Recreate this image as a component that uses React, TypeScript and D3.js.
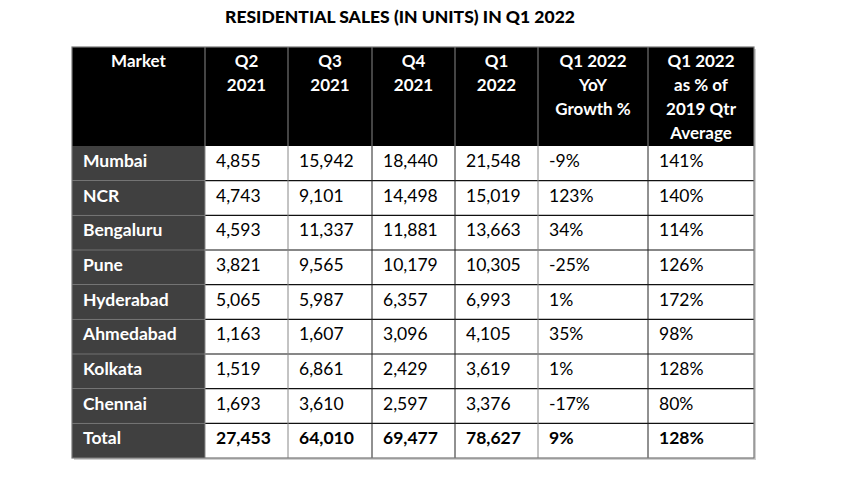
import React from "react";
import * as d3 from "d3";

const title = "RESIDENTIAL SALES (IN UNITS) IN Q1 2022";
const headers: string[][] = [
  ["Market"],
  ["Q2", "2021"],
  ["Q3", "2021"],
  ["Q4", "2021"],
  ["Q1", "2022"],
  ["Q1 2022", "YoY", "Growth %"],
  ["Q1 2022", "as % of", "2019 Qtr", "Average"],
];
const markets = ["Mumbai", "NCR", "Bengaluru", "Pune", "Hyderabad", "Ahmedabad", "Kolkata", "Chennai", "Total"];
const q2_2021 = [4855, 4743, 4593, 3821, 5065, 1163, 1519, 1693, 27453];
const q3_2021 = [15942, 9101, 11337, 9565, 5987, 1607, 6861, 3610, 64010];
const q4_2021 = [18440, 14498, 11881, 10179, 6357, 3096, 2429, 2597, 69477];
const q1_2022 = [21548, 15019, 13663, 10305, 6993, 4105, 3619, 3376, 78627];
const yoyGrowth = [-9, 123, 34, -25, 1, 35, 1, -17, 9];
const pctOf2019 = [141, 140, 114, 126, 172, 98, 128, 80, 128];

const W = 850, H = 478;
const colEdges = [72, 205, 288, 372, 455, 538, 648, 754];
const tableTop = 47, headerBottom = 146, tableBottom = 458;
const FONT = "Lato, 'Open Sans', sans-serif";
const vColors = ["#888", "#888", "#222", "#222", "#888", "#222"];

export default function App() {
  const y = d3.scaleBand<number>().domain(d3.range(markets.length)).range([headerBottom, tableBottom]).padding(0);
  const fmt = d3.format(",");
  const rows = markets.map((m, i) => [
    m,
    fmt(q2_2021[i]),
    fmt(q3_2021[i]),
    fmt(q4_2021[i]),
    fmt(q1_2022[i]),
    `${yoyGrowth[i]}%`,
    `${pctOf2019[i]}%`,
  ]);
  const left = colEdges[0], right = colEdges[colEdges.length - 1];
  return (
    <svg width={W} height={H} style={{ position: "absolute", left: 0, top: 0, background: "#fff" }}>
      <text x={400} y={23} textAnchor="middle" fontFamily={FONT} fontWeight={900} fontSize={17.5} fill="#000">
        {title}
      </text>
      {/* shadow */}
      <rect x={left + 2} y={tableTop + 2} width={right - left} height={tableBottom - tableTop} fill="#d0d0d0" />
      {/* header */}
      <rect x={left} y={tableTop} width={right - left} height={headerBottom - tableTop} fill="#000" />
      {/* body */}
      <rect x={left} y={headerBottom} width={right - left} height={tableBottom - headerBottom} fill="#fff" />
      <rect x={left} y={headerBottom} width={colEdges[1] - left} height={tableBottom - headerBottom} fill="#404040" />
      {/* horizontal lines */}
      {markets.map((_, i) =>
        i === 0 ? null : (
          <line key={"h" + i} x1={left} x2={right} y1={y(i)!} y2={y(i)!} stroke={"#111"} strokeWidth={1.2} />
        )
      )}
      {markets.map((_, i) =>
        i === 0 ? null : (
          <line key={"hm" + i} x1={left} x2={colEdges[1]} y1={y(i)!} y2={y(i)!} stroke={"#888"} strokeWidth={1} />
        )
      )}
      {/* vertical lines */}
      {colEdges.slice(1, -1).map((x, i) => (
        <line key={"vh" + i} x1={x} x2={x} y1={tableTop} y2={headerBottom} stroke="#888" strokeWidth={1} />
      ))}
      {colEdges.slice(1, -1).map((x, i) => (
        <line key={"v" + i} x1={x} x2={x} y1={headerBottom} y2={tableBottom} stroke={vColors[i]} strokeWidth={1} />
      ))}
      <rect x={left} y={tableTop} width={right - left} height={tableBottom - tableTop} fill="none" stroke="#777" strokeWidth={1.2} />
      {/* header text */}
      {headers.map((lines, c) =>
        lines.map((t, k) => (
          <text
            key={"ht" + c + k}
            x={(colEdges[c] + colEdges[c + 1]) / 2}
            y={67 + k * 24}
            textAnchor="middle"
            fontFamily={FONT}
            fontWeight={700}
            fontSize={17}
            fill="#fff"
          >
            {t}
          </text>
        ))
      )}
      {/* body text */}
      {rows.map((r, i) =>
        r.map((t, c) => (
          <text
            key={"c" + i + "-" + c}
            x={colEdges[c] + 11}
            y={y(i)! + 21}
            fontFamily={FONT}
            fontWeight={c === 0 || i === markets.length - 1 ? 700 : 400}
            fontSize={17.5}
            fill={c === 0 ? "#fff" : "#000"}
          >
            {t}
          </text>
        ))
      )}
    </svg>
  );
}
